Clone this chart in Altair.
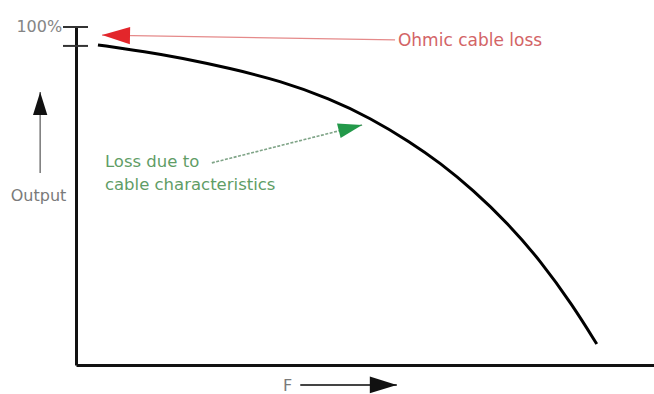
import altair as alt
import pandas as pd

FONT = "DejaVu Sans"

# Output curve: frequency F (relative units, 0-100) vs. transmitted output (%)
f_curve = [3.8, 12.3, 18.0, 26.6, 35.3, 43.9, 50.9, 57.8, 63.0, 68.7, 74.6, 80.3, 86.0, 90.1]
out_curve = [94.7, 92.6, 90.9, 87.8, 84.1, 78.8, 73.1, 66.0, 59.8, 51.8, 42.1, 31.0, 17.5, 6.2]

# Marks on the output axis: full output and the level left after ohmic loss
axis_marks = [100, 94.4]

# Annotation arrows (tail -> tip) in data units
arrow_names = ["ohmic", "cable", "output", "freq"]
arrow_f0 = [55.2, 23.5, -6.2, 38.8]
arrow_o0 = [96.2, 59.8, 56.8, -5.9]
arrow_f1 = [4.5, 49.5, -6.2, 55.5]
arrow_o1 = [97.6, 71.0, 80.8, -5.9]
head_angle = [1, 166, 90, 180]
head_size = [784, 576, 529, 729]
line_color = ["#e58a8a", "#7fa487", "#777777", "#444444"]
head_color = ["#e3262b", "#23994a", "#111111", "#111111"]
line_width = [1.2, 1.6, 1.5, 2.0]

# Text annotations
note_text = ["Ohmic cable loss", "Loss due to", "cable characteristics"]
note_f = [55.7, 5.0, 5.0]
note_o = [95.9, 60.1, 53.3]
note_color = ["#d36466", "#5f9d66", "#5f9d66"]
note_size = [17, 16.5, 16.5]

full_label = ["100%"]
full_f = [-2.4]
full_o = [100]

curve = pd.DataFrame({"F": f_curve, "Output": out_curve})
marks = pd.DataFrame({"Output": axis_marks})
arrows = pd.DataFrame({
    "name": arrow_names, "f0": arrow_f0, "o0": arrow_o0, "f1": arrow_f1, "o1": arrow_o1,
    "angle": head_angle, "size": head_size, "lc": line_color, "hc": head_color, "lw": line_width,
})
notes = pd.DataFrame({"text": note_text, "F": note_f, "Output": note_o,
                      "color": note_color, "size": note_size})
full = pd.DataFrame({"text": full_label, "F": full_f, "Output": full_o})

xs = alt.Scale(domain=[0, 100], nice=False, zero=False)
ys = alt.Scale(domain=[0, 100], nice=False, zero=False)

x_axis = alt.Axis(labels=False, ticks=False, grid=False, domainColor="#111111", domainWidth=3,
                  title="F", titleFont=FONT, titleFontSize=16, titleFontWeight="normal",
                  titleColor="#7a7a7a", titleX=211, titleY=20, titleAlign="center",
                  titleBaseline="middle", titleAnchor="start")
y_axis = alt.Axis(labels=False, ticks=False, grid=False, domainColor="#111111", domainWidth=3,
                  title="Output", titleFont=FONT, titleFontSize=16, titleFontWeight="normal",
                  titleColor="#7a7a7a", titleAngle=0, titleX=-38, titleY=168,
                  titleAlign="center", titleBaseline="middle", titleAnchor="start")

base = alt.Chart(curve).mark_line(interpolate="basis", color="#000000", strokeWidth=3).encode(
    x=alt.X("F:Q", scale=xs, axis=x_axis),
    y=alt.Y("Output:Q", scale=ys, axis=y_axis),
)

ticks = alt.Chart(marks).mark_rule(color="#333333", strokeWidth=2).encode(
    x=alt.value(-13), x2=alt.value(12), y=alt.Y("Output:Q", scale=ys),
)

arrow_lines = alt.Chart(arrows).transform_filter("datum.name != 'cable'").mark_rule().encode(
    x=alt.X("f0:Q", scale=xs), y=alt.Y("o0:Q", scale=ys),
    x2="f1:Q", y2="o1:Q",
    color=alt.Color("lc:N", scale=None),
    strokeWidth=alt.StrokeWidth("lw:Q", scale=None),
)

cable_line = alt.Chart(arrows).transform_filter("datum.name == 'cable'").mark_rule(
    strokeDash=[3, 1.5]).encode(
    x=alt.X("f0:Q", scale=xs), y=alt.Y("o0:Q", scale=ys),
    x2="f1:Q", y2="o1:Q",
    color=alt.Color("lc:N", scale=None),
    strokeWidth=alt.StrokeWidth("lw:Q", scale=None),
)

heads = alt.Chart(arrows).mark_point(
    shape="M0,0L2,-0.62L2,0.62Z", filled=True, opacity=1, strokeWidth=0).encode(
    x=alt.X("f1:Q", scale=xs), y=alt.Y("o1:Q", scale=ys),
    angle=alt.Angle("angle:Q", scale=None),
    size=alt.Size("size:Q", scale=None),
    color=alt.Color("hc:N", scale=None),
)

note_marks = alt.Chart(notes).mark_text(align="left", baseline="middle", font=FONT).encode(
    x=alt.X("F:Q", scale=xs), y=alt.Y("Output:Q", scale=ys),
    text="text:N",
    color=alt.Color("color:N", scale=None),
    size=alt.Size("size:Q", scale=None),
)

full_mark = alt.Chart(full).mark_text(align="right", baseline="middle", font=FONT,
                                      fontSize=16, color="#858585").encode(
    x=alt.X("F:Q", scale=xs), y=alt.Y("Output:Q", scale=ys), text="text:N",
)

chart = alt.layer(base, ticks, arrow_lines, cable_line, heads, note_marks, full_mark).properties(
    width=578, height=338,
    autosize=alt.AutoSizeParams(type="none"),
    padding={"left": 76, "top": 27, "right": 0, "bottom": 29},
    background="#ffffff",
).configure_view(stroke=None)

chart.save("out.html", embed_options={"renderer": "svg", "actions": False})
